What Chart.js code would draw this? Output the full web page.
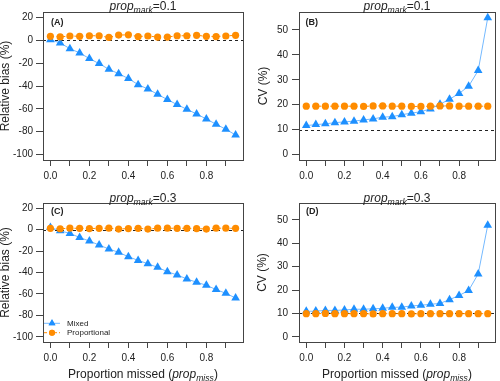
<!DOCTYPE html>
<html>
<head>
<meta charset="utf-8">
<script src="https://cdn.jsdelivr.net/npm/chart.js@4"></script>
<style>
  html, body { margin: 0; padding: 0; background: #fff; }
  #wrap { position: relative; width: 500px; height: 381px; }
  canvas { position: absolute; }
</style>
</head>
<body>
<div id="wrap">
  <canvas id="pA" width="250" height="190" style="left:0;top:0"></canvas>
  <canvas id="pB" width="250" height="190" style="left:250px;top:0"></canvas>
  <canvas id="pC" width="250" height="191" style="left:0;top:190px"></canvas>
  <canvas id="pD" width="250" height="191" style="left:250px;top:190px"></canvas>
</div>
<script>
// proportion missed (x) for every series
var propMiss = [0, 0.05, 0.1, 0.15, 0.2, 0.25, 0.3, 0.35, 0.4, 0.45, 0.5, 0.55, 0.6, 0.65, 0.7, 0.75, 0.8, 0.85, 0.9, 0.95];

// (A) relative bias, prop_mark = 0.1
var biasMixedA = [0.5, -2.3, -7.3, -11, -16, -20.4, -25.4, -29.2, -33.5, -38.8, -42.6, -47.3, -51.9, -56.3, -60.4, -64.5, -68.9, -73.5, -77.9, -82.9];
var biasPropA  = [3.5, 3.0, 3.8, 3.5, 4.0, 4.0, 2.5, 4.6, 4.8, 3.3, 3.8, 2.8, 2.8, 4.0, 4.0, 4.4, 3.5, 3.3, 3.8, 4.4];
// (B) CV, prop_mark = 0.1
var cvMixedB = [11.6, 12.0, 12.3, 12.8, 13.1, 13.4, 13.9, 14.3, 15.0, 15.2, 16.0, 16.6, 17.2, 18.3, 20.2, 22.2, 24.5, 27.4, 33.7, 54.9];
var cvPropB  = [19.4, 19.4, 19.4, 19.4, 19.4, 19.4, 19.3, 19.5, 19.5, 19.4, 19.4, 19.3, 19.3, 19.4, 19.5, 19.5, 19.4, 19.4, 19.4, 19.4];
// (C) relative bias, prop_mark = 0.3
var biasMixedC = [2.0, -1.1, -3.6, -7.3, -10.7, -14.4, -18.1, -21.2, -25.3, -28.7, -31.8, -35.2, -39.2, -42.3, -46.0, -49.1, -51.9, -55.9, -59.4, -63.8];
var biasPropC  = [1.2, 0.8, 1.3, 1.2, 1.0, 1.2, 1.3, 0.5, 1.0, 1.2, 0.5, 1.3, 1.3, 1.2, 1.2, 1.0, 0.5, 1.3, 1.3, 1.2];
// (D) CV, prop_mark = 0.3
var cvMixedD = [10.9, 11.0, 11.3, 11.3, 11.5, 11.8, 11.8, 12.0, 12.2, 12.6, 12.7, 13.2, 13.5, 13.9, 14.3, 15.9, 17.7, 19.8, 26.9, 47.7];
var cvPropD  = [9.9, 9.9, 10.0, 9.9, 9.9, 9.9, 9.9, 9.8, 9.9, 9.9, 9.9, 9.8, 9.9, 9.9, 9.9, 9.9, 9.9, 9.9, 9.9, 9.9];

// ticks
var xTicks = [0, 0.1, 0.2, 0.3, 0.4, 0.5, 0.6, 0.7, 0.8, 0.9];
var biasTicks = [-100, -80, -60, -40, -20, 0, 20];
var cvTicks = [0, 10, 20, 30, 40, 50];

var seriesNames = ['Mixed', 'Proportional'];
var markValues = ['0.1', '0.1', '0.3', '0.3'];
var panelLetters = ['(A)', '(B)', '(C)', '(D)'];
var refLines = [0, 10, 0, 10];

var FONT = 'Liberation Sans, Arial, sans-serif';
var BLUE = '#1E90FF', BLUE_LINE = '#74B9FF', ORANGE = '#FF8C00';

function pts(ys) {
  return propMiss.map(function (x, i) { return { x: x, y: ys[i] }; });
}

// draw text with italic "prop" + subscript, centred on cx
function richText(ctx, parts, cx, baseY, size) {
  var w = 0;
  parts.forEach(function (p) {
    var s = p.sub ? size * 0.72 : size;
    ctx.font = (p.it ? 'italic ' : '') + s + 'px ' + FONT;
    p.w = ctx.measureText(p.t).width;
    w += p.w;
  });
  var x = cx - w / 2;
  ctx.textAlign = 'left';
  ctx.textBaseline = 'alphabetic';
  parts.forEach(function (p) {
    var s = p.sub ? size * 0.72 : size;
    ctx.font = (p.it ? 'italic ' : '') + s + 'px ' + FONT;
    ctx.fillText(p.t, x, baseY + (p.sub ? 2.5 : 0));
    x += p.w;
  });
}

var decor = {
  id: 'decor',
  beforeDatasetsDraw: function (chart, args, o) {
    var ctx = chart.ctx, a = chart.chartArea;
    var y = chart.scales.y.getPixelForValue(o.ref);
    ctx.save();
    ctx.strokeStyle = '#222';
    ctx.lineWidth = 1;
    ctx.setLineDash([3, 3]);
    ctx.beginPath();
    ctx.moveTo(a.left, Math.round(y) + 0.5);
    ctx.lineTo(a.right, Math.round(y) + 0.5);
    ctx.stroke();
    ctx.restore();
  },
  afterDraw: function (chart, args, o) {
    var ctx = chart.ctx, a = chart.chartArea;
    ctx.save();
    ctx.strokeStyle = '#444';
    ctx.lineWidth = 1;
    ctx.strokeRect(Math.round(a.left) + 0.5, Math.round(a.top) + 0.5,
      Math.round(a.right - a.left), Math.round(a.bottom - a.top));
    ctx.fillStyle = '#222';
    var cx = (a.left + a.right) / 2;
    richText(ctx, [{ t: 'prop', it: true }, { t: 'mark', it: true, sub: true }, { t: '=' + o.mark }], cx, o.titleBase, 12);
    ctx.font = 'bold 9px ' + FONT;
    ctx.textAlign = 'left';
    ctx.textBaseline = 'middle';
    ctx.fillText(o.letter, a.left + o.letterDx, a.top + o.letterDy);
    // y title
    ctx.save();
    ctx.translate(o.yTitleX, (a.top + a.bottom) / 2);
    ctx.rotate(-Math.PI / 2);
    ctx.font = '12px ' + FONT;
    ctx.textAlign = 'center';
    ctx.textBaseline = 'middle';
    ctx.fillText(o.yTitle, 0, 0);
    ctx.restore();
    if (o.xTitle) {
      richText(ctx, [{ t: 'Proportion missed (' }, { t: 'prop', it: true }, { t: 'miss', it: true, sub: true }, { t: ')' }], cx, o.xTitleBase, 12);
    }
    if (o.legend) {
      var items = [
        { name: seriesNames[0], color: BLUE, line: BLUE_LINE, dash: [], style: 'triangle', r: 4 },
        { name: seriesNames[1], color: ORANGE, line: ORANGE, dash: [3, 2], style: 'circle', r: 3 }
      ];
      items.forEach(function (it, i) {
        var y = o.legendY + i * 9.4;
        ctx.strokeStyle = it.line;
        ctx.setLineDash(it.dash);
        ctx.beginPath();
        ctx.moveTo(a.left + 1, y);
        ctx.lineTo(a.left + 17, y);
        ctx.stroke();
        ctx.setLineDash([]);
        ctx.fillStyle = it.color;
        Chart.helpers.drawPoint(ctx, { pointStyle: it.style, radius: it.r, borderWidth: 0 }, a.left + 9, y);
        ctx.fill();
        ctx.fillStyle = '#222';
        ctx.font = '8px ' + FONT;
        ctx.textAlign = 'left';
        ctx.textBaseline = 'middle';
        ctx.fillText(it.name, a.left + 24, y);
      });
    }
    ctx.restore();
  }
};

function makePanel(id, i, mixed, prop, yTicks, yMin, yMax, yTitle, L) {
  new Chart(document.getElementById(id), {
    type: 'scatter',
    data: {
      datasets: [{
        label: seriesNames[1],
        data: pts(prop),
        showLine: true,
        borderColor: ORANGE,
        borderWidth: 1,
        borderDash: [3, 3],
        backgroundColor: ORANGE,
        pointStyle: 'circle',
        pointRadius: 3.6,
        pointBorderWidth: 0
      }, {
        label: seriesNames[0],
        data: pts(mixed),
        showLine: true,
        borderColor: BLUE_LINE,
        borderWidth: 1,
        backgroundColor: BLUE,
        pointStyle: 'triangle',
        pointRadius: 5,
        pointBorderWidth: 0
      }]
    },
    options: {
      responsive: false,
      animation: false,
      devicePixelRatio: 1,
      layout: { padding: { top: L.top, right: 250 - L.right, left: 0, bottom: 0 } },
      plugins: {
        legend: { display: false },
        tooltip: { enabled: false },
        decor: {
          ref: refLines[i], mark: markValues[i], letter: panelLetters[i],
          letterDx: L.letterDx, letterDy: L.letterDy, titleBase: L.titleBase,
          yTitle: yTitle, yTitleX: L.yTitleX,
          xTitle: L.xTitle, xTitleBase: L.xTitleBase,
          legend: L.legend, legendY: L.legendY
        }
      },
      scales: {
        x: {
          type: 'linear', min: -0.038, max: 0.988,
          afterBuildTicks: function (s) { s.ticks = xTicks.map(function (v) { return { value: v }; }); },
          afterFit: function (s) { s.height = L.canvasH - L.bottom; },
          grid: { drawOnChartArea: false, tickLength: 6, color: '#444' },
          border: { display: false },
          ticks: {
            autoSkip: false, maxRotation: 0, padding: 4, color: '#222',
            font: { family: FONT, size: 10 },
            callback: function (v) { return Math.round(v * 10) % 2 === 0 ? v.toFixed(1) : ''; }
          }
        },
        y: {
          min: yMin, max: yMax,
          afterBuildTicks: function (s) { s.ticks = yTicks.map(function (v) { return { value: v }; }); },
          afterFit: function (s) { s.width = L.left; },
          grid: { drawOnChartArea: false, tickLength: 7, color: '#444' },
          border: { display: false },
          ticks: {
            padding: L.yPad, color: '#222',
            font: { family: FONT, size: 10 },
            callback: function (v) { return String(v); }
          }
        }
      }
    },
    plugins: [decor]
  });
}

makePanel('pA', 0, biasMixedA, biasPropA, biasTicks, -104.8, 24.8, 'Relative bias (%)',
  { top: 12, bottom: 160, left: 43, right: 243, canvasH: 190, titleBase: 10, letterDx: 8, letterDy: 10.5, yTitleX: 6, yPad: 3 });
makePanel('pB', 1, cvMixedB, cvPropB, cvTicks, -2.2, 57.2, 'CV (%)',
  { top: 12, bottom: 160, left: 49, right: 247, canvasH: 190, titleBase: 10, letterDx: 6.5, letterDy: 10.5, yTitleX: 14, yPad: 4 });
makePanel('pC', 2, biasMixedC, biasPropC, biasTicks, -104.8, 24.8, 'Relative bias (%)',
  { top: 13, bottom: 152, left: 43, right: 243, canvasH: 191, titleBase: 12, letterDx: 8, letterDy: 8.5, yTitleX: 6, yPad: 3,
    xTitle: true, xTitleBase: 188, legend: true, legendY: 133.3 });
makePanel('pD', 3, cvMixedD, cvPropD, cvTicks, -2.2, 57.2, 'CV (%)',
  { top: 13, bottom: 152, left: 49, right: 248, canvasH: 191, titleBase: 12, letterDx: 7, letterDy: 8.5, yTitleX: 12.5, yPad: 4,
    xTitle: true, xTitleBase: 188 });
</script>
</body>
</html>
